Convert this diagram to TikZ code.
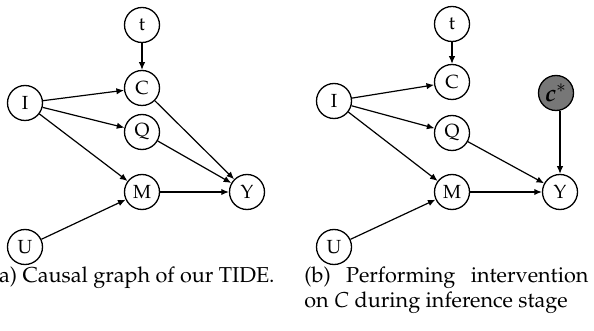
\documentclass[tikz,border=0pt]{standalone}
\usepackage[T1]{fontenc}
\usepackage{mathpazo}
\usepackage{bm}
\usetikzlibrary{arrows.meta}
\definecolor{cgray}{RGB}{119,119,119}
\begin{document}
\begin{tikzpicture}[x=0.5pt,y=-0.5pt,
  var/.style={circle,draw,line width=0.65pt,minimum size=17.5pt,inner sep=0pt,font=\fontsize{9.5}{10}\selectfont},
  shaded/.style={var,fill=cgray},
  edge/.style={line width=0.6pt,-{Latex[length=3.8pt,width=3.2pt]}},
  captext/.style={font=\fontsize{10.8}{12.5}\selectfont,inner sep=0pt}]
\useasboundingbox (0,0) rectangle (594,331);
% left panel
\node[var] (ta) at (142,25) {t};
\node[var] (ca) at (142,88) {C};
\node[var] (ia) at (25,103) {I};
\node[var] (qa) at (142,132) {Q};
\node[var] (ma) at (142,192) {M};
\node[var] (ya) at (247,192) {Y};
\node[var] (ua) at (25,247) {U};
\draw[edge] (ta) -- (ca);
\draw[edge] (ia) -- (ca);
\draw[edge] (ia) -- (qa);
\draw[edge] (ia) -- (ma);
\draw[edge] (ca) -- (ya);
\draw[edge] (qa) -- (ya);
\draw[edge] (ma) -- (ya);
\draw[edge] (ua) -- (ma);
% right panel
\node[var] (tb) at (452,24) {t};
\node[var] (cb) at (452,82) {C};
\node[var] (ib) at (334,101) {I};
\node[var] (qb) at (452,133) {Q};
\node[var] (mb) at (452,192) {M};
\node[var] (yb) at (560,192) {Y};
\node[var] (ub) at (334,247) {U};
\node[shaded] (sb) at (556,93) {\fontsize{12}{12}\selectfont$\bm{c}^{*}$};
\draw[edge] (tb) -- (cb);
\draw[edge] (ib) -- (cb);
\draw[edge] (ib) -- (qb);
\draw[edge] (ib) -- (mb);
\draw[edge] (qb) -- (yb);
\draw[edge] (mb) -- (yb);
\draw[edge] (ub) -- (mb);
\draw[edge] (sb.south -| yb.north) -- (yb.north);
% captions
\node[captext,anchor=base east] (capa) at (275,283) {(a) Causal graph of our TIDE.};
\node[captext,anchor=base west,text width=142pt,align=justify] (capb) at (304,283) {(b) Performing intervention\linebreak on $C$ during inference stage};
\end{tikzpicture}
\end{document}
